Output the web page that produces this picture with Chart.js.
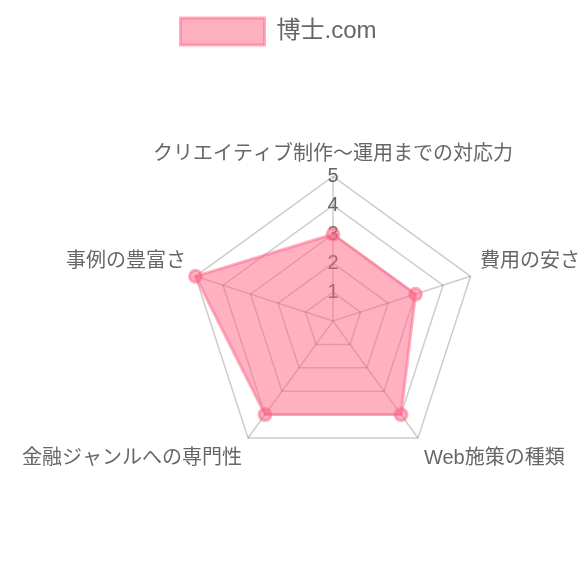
<!DOCTYPE html>
<html><head><meta charset="utf-8">
<script src="https://cdn.jsdelivr.net/npm/chart.js@4"></script>
<style>html,body{margin:0;padding:0;background:#fff;overflow:hidden}#wrap{width:580px;height:580px;overflow:hidden;position:relative}#c{position:absolute;left:-17px;top:0}</style>
</head><body><div id="wrap"><canvas id="c" width="631" height="580"></canvas></div>
<script>
const categories = ["クリエイティブ制作〜運用までの対応力","費用の安さ","Web施策の種類","金融ジャンルへの専門性","事例の豊富さ"];
const seriesName = "博士.com";
const values = [3,3,4,4,5];
const tickValues = [1,2,3,4,5];
const FONT = "'Liberation Sans', Arial, 'Noto Sans CJK JP', sans-serif";
const PINK = 'rgba(255,99,132,0.5)';
new Chart(document.getElementById('c'), {
  type: 'radar',
  data: { labels: categories, datasets: [{
    label: seriesName, data: values,
    backgroundColor: PINK,
    borderColor: PINK,
    borderWidth: 3,
    pointBackgroundColor: PINK,
    pointBorderColor: PINK,
    pointRadius: 6
  }]},
  options: {
    responsive: false, animation: false, devicePixelRatio: 1,
    layout: { padding: { top: 4, left: 0, right: 0, bottom: 17 } },
    plugins: {
      legend: { labels: { boxWidth: 84, boxHeight: 27, color: '#666', font: { size: 24, family: FONT }, padding: 14,
        generateLabels: (chart) => {
          const items = Chart.defaults.plugins.legend.labels.generateLabels(chart);
          items.forEach(it => { it.text = it.text + '      '; });
          return items;
        } } },
      tooltip: { enabled: false } },
    scales: { r: {
      min: 0, max: 5,
      ticks: { stepSize: 1, color: '#666', showLabelBackdrop: false, backdropPadding: 0, font: { size: 20, family: FONT }, callback: (v) => tickValues.includes(v) ? String(v) : '' },
      grid: { color: 'rgba(0,0,0,0.2)', lineWidth: 1.5 },
      angleLines: { color: 'rgba(0,0,0,0.2)', lineWidth: 1.5 },
      pointLabels: { color: '#666', padding: 0, font: { size: 20, family: FONT } }
    } }
  }
});
</script></body></html>
